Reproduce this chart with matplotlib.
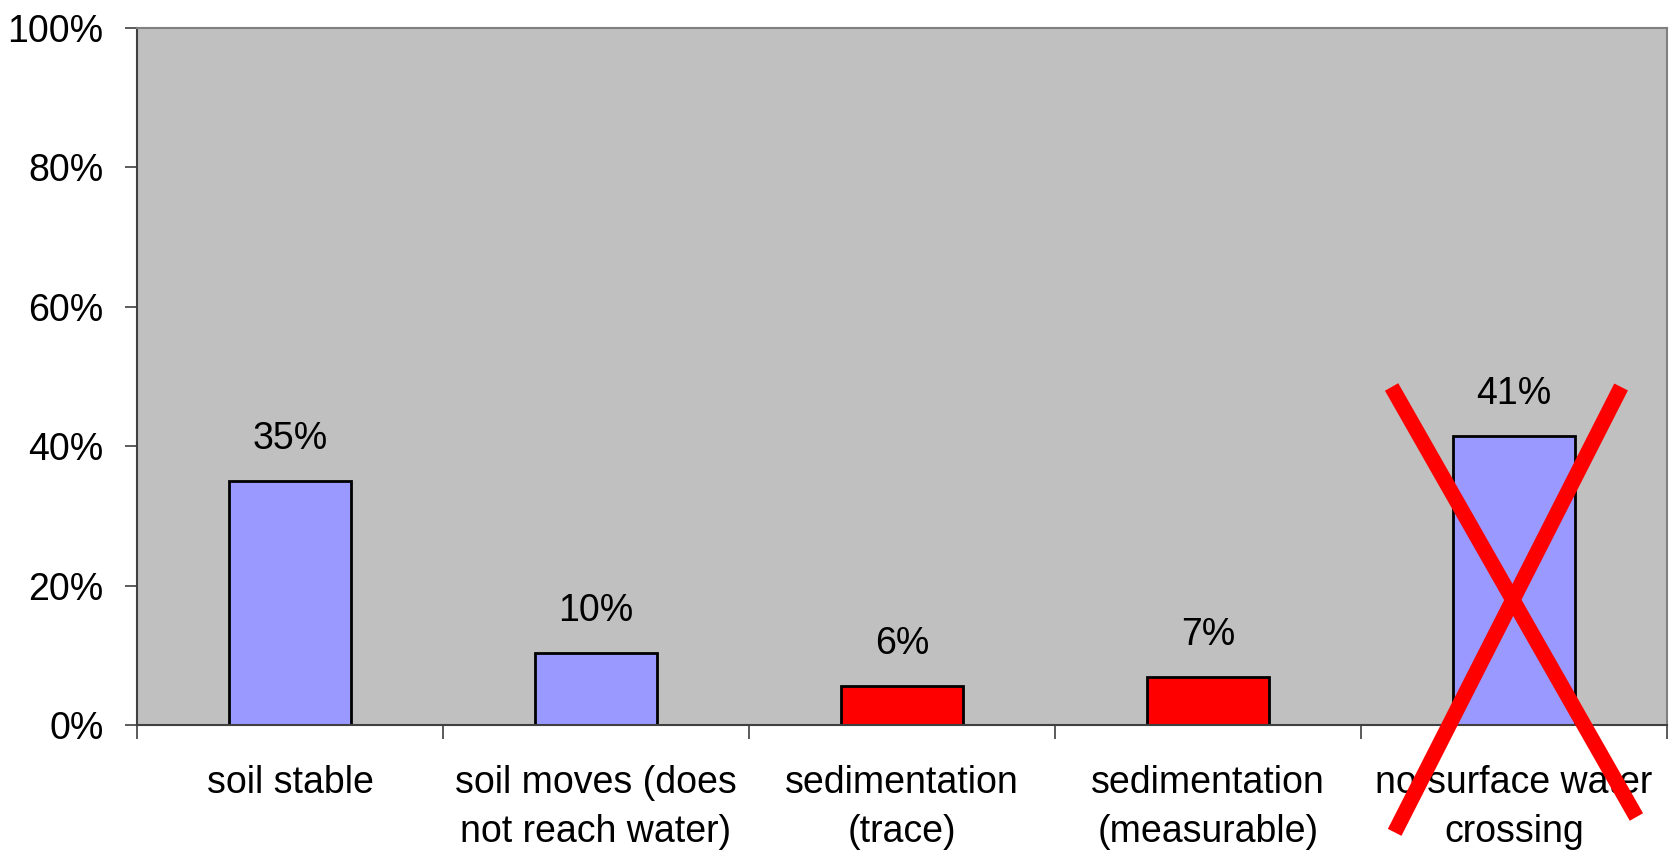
import numpy as np
import matplotlib
matplotlib.use("Agg")
import matplotlib.pyplot as plt

# data
categories = ["soil stable", "soil moves (does\nnot reach water)", "sedimentation\n(trace)",
              "sedimentation\n(measurable)", "no surface water\ncrossing"]
values = [35.0, 10.4, 5.6, 6.9, 41.5]
value_labels = ["35%", "10%", "6%", "7%", "41%"]
bar_colors = ["#9999FF", "#9999FF", "#FF0000", "#FF0000", "#9999FF"]
yticks = [0, 20, 40, 60, 80, 100]

plt.rcParams['font.family'] = ['Liberation Sans', 'DejaVu Sans']
FS = 27

fig = plt.figure(figsize=(16.74, 8.5), dpi=100)
ax = fig.add_axes([137 / 1674, 1 - 725 / 850, (1667 - 137) / 1674, (725 - 28) / 850])
ax.set_facecolor("#C0C0C0")

x = np.arange(len(categories))
bars = ax.bar(x, values, width=0.4, color=bar_colors, edgecolor="black", linewidth=2, zorder=2)

for xi, v, lab in zip(x, values, value_labels):
    ax.annotate(lab, (xi, v), xytext=(0, 17), textcoords="offset points",
                ha="center", va="bottom", fontsize=FS)

ax.set_xlim(-0.5, len(categories) - 0.5)
ax.set_ylim(0, 100)
ax.set_yticks(yticks)
ax.set_yticklabels([f"{t}%" for t in yticks], fontsize=FS)
ax.tick_params(axis="y", direction="out", length=9, width=1.2, pad=15, colors="#404040",
               labelcolor="black")

# category boundaries get ticks, centres get labels
ax.set_xticks(np.arange(-0.5, len(categories), 1.0))
ax.set_xticklabels([])
ax.set_xticks(x, minor=True)
ax.set_xticklabels(categories, minor=True, fontsize=FS, linespacing=1.45)
ax.tick_params(axis="x", which="major", direction="out", length=10, width=1.2, colors="#404040")
ax.tick_params(axis="x", which="minor", length=0, pad=29, labelcolor="black")

for s in ["left", "bottom"]:
    ax.spines[s].set_color("#404040")
    ax.spines[s].set_linewidth(1.5)
for s in ["top", "right"]:
    ax.spines[s].set_color("#808080")
    ax.spines[s].set_linewidth(1.5)

# red cross over the last category
ax.plot([3.60, 4.40], [48.5, -13.2], color="red", linewidth=11, clip_on=False, zorder=5,
        solid_capstyle="butt")
ax.plot([4.35, 3.61], [48.5, -15.4], color="red", linewidth=11, clip_on=False, zorder=5,
        solid_capstyle="butt")

fig.savefig("out.png", dpi=100)
